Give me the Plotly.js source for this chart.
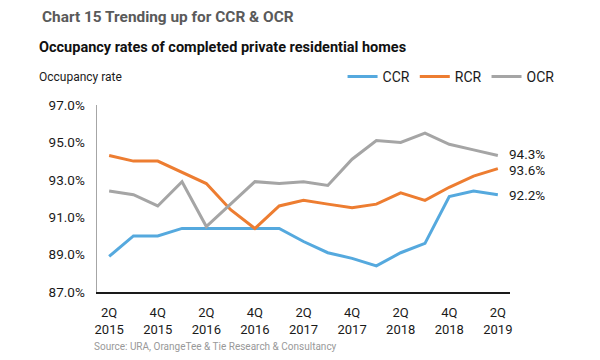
<!DOCTYPE html>
<html>
<head>
<meta charset="utf-8">
<script src="https://cdn.plot.ly/plotly-3.0.1.min.js"></script>
<style>html,body{margin:0;padding:0;background:#fff}#chart{width:600px;height:360px}</style>
</head>
<body>
<div id="chart"></div>
<script>
// Quarters from 2Q 2015 to 2Q 2019
const quarters = ["2Q 2015","3Q 2015","4Q 2015","1Q 2016","2Q 2016","3Q 2016","4Q 2016","1Q 2017","2Q 2017","3Q 2017","4Q 2017","1Q 2018","2Q 2018","3Q 2018","4Q 2018","1Q 2019","2Q 2019"];
const ccr = [88.9, 90.0, 90.0, 90.4, 90.4, 90.4, 90.4, 90.4, 89.7, 89.1, 88.8, 88.4, 89.1, 89.6, 92.1, 92.4, 92.2];
const rcr = [94.3, 94.0, 94.0, 93.4, 92.8, 91.4, 90.4, 91.6, 91.9, 91.7, 91.5, 91.7, 92.3, 91.9, 92.6, 93.2, 93.6];
const ocr = [92.4, 92.2, 91.6, 92.9, 90.5, 91.7, 92.9, 92.8, 92.9, 92.7, 94.1, 95.1, 95.0, 95.5, 94.9, 94.6, 94.3];
const tickIdx = [0, 2, 4, 6, 8, 10, 12, 14, 16];
const tickLabels = ["2Q<br>2015","4Q<br>2015","2Q<br>2016","4Q<br>2016","2Q<br>2017","4Q<br>2017","2Q<br>2018","4Q<br>2018","2Q<br>2019"];
const yTicks = [87, 89, 91, 93, 95, 97];

const xIdx = quarters.map((q, i) => i);
const FONT = "Roboto, 'Liberation Sans', Arial, sans-serif";
const series = [
  {name: "CCR", y: ccr, color: "#55A9DE", labelShift: 0},
  {name: "RCR", y: rcr, color: "#ED7D31", labelShift: -1},
  {name: "OCR", y: ocr, color: "#A5A5A5", labelShift: 1}
];

const traces = series.map(s => ({
  type: "scatter", mode: "lines", name: s.name,
  x: xIdx, y: s.y, text: quarters,
  line: {color: s.color, width: 3},
  hoverinfo: "text+y"
}));

const last = xIdx.length - 1;
const endLabels = series.map(s => ({
  x: last, y: s.y[last], xref: "x", yref: "y",
  text: s.y[last].toFixed(1) + "%", showarrow: false,
  xanchor: "left", yanchor: "middle", xshift: 9, yshift: s.labelShift,
  font: {family: FONT, size: 13.5, color: "#1a1a1a"}
}));

const layout = {
  width: 600, height: 360,
  margin: {l: 97, r: 90, t: 105, b: 68},
  paper_bgcolor: "#ffffff", plot_bgcolor: "#ffffff",
  font: {family: FONT, color: "#1a1a1a"},
  title: {
    text: "<b>Chart 15 Trending up for CCR & OCR</b>",
    x: 42/600, xref: "container", xanchor: "left",
    y: 1 - 17/360, yref: "container", yanchor: "middle",
    font: {family: FONT, size: 15.4, color: "#5a5a5a"}
  },
  showlegend: true,
  legend: {
    orientation: "h", x: 1.12, xanchor: "right", y: 1 + 28/187, yanchor: "middle",
    font: {family: FONT, size: 14, color: "#1a1a1a"},
    traceorder: "normal", itemclick: false, itemdoubleclick: false,
    bgcolor: "rgba(0,0,0,0)", tracegroupgap: 0
  },
  xaxis: {
    range: [-0.5, 16.5], tickmode: "array", tickvals: tickIdx, ticktext: tickLabels,
    showgrid: false, zeroline: false, showline: true, linecolor: "#1a1a1a", linewidth: 1.5,
    ticks: "outside", ticklen: 8, tickcolor: "rgba(0,0,0,0)",
    tickfont: {family: FONT, size: 13, color: "#1a1a1a"}, fixedrange: true
  },
  yaxis: {
    range: [87, 97], tickmode: "array", tickvals: yTicks,
    ticktext: yTicks.map(v => v.toFixed(1) + "%"),
    showgrid: false, zeroline: false, showline: true, linecolor: "#A6A6A6", linewidth: 1.5,
    ticks: "outside", ticklen: 8, tickcolor: "rgba(0,0,0,0)",
    tickfont: {family: FONT, size: 13.5, color: "#1a1a1a"}, fixedrange: true
  },
  annotations: [
    {text: "<b>Occupancy rates of completed private residential homes</b>", xref: "paper", yref: "paper",
     x: -60/413, y: 1 + (105-47)/187, xanchor: "left", yanchor: "middle", showarrow: false,
     font: {family: FONT, size: 14.5, color: "#111111"}},
    {text: "Occupancy rate", xref: "paper", yref: "paper",
     x: -60/413, y: 1 + (105-77)/187, xanchor: "left", yanchor: "middle", showarrow: false,
     font: {family: FONT, size: 12, color: "#1a1a1a"}},
    {text: "Source: URA, OrangeTee & Tie Research & Consultancy", xref: "paper", yref: "paper",
     x: -5/413, y: -(346-292)/187, xanchor: "left", yanchor: "middle", showarrow: false,
     font: {family: FONT, size: 10, color: "#999999"}}
  ].concat(endLabels)
};

Plotly.newPlot("chart", traces, layout, {displayModeBar: false, staticPlot: true});
</script>
</body>
</html>
